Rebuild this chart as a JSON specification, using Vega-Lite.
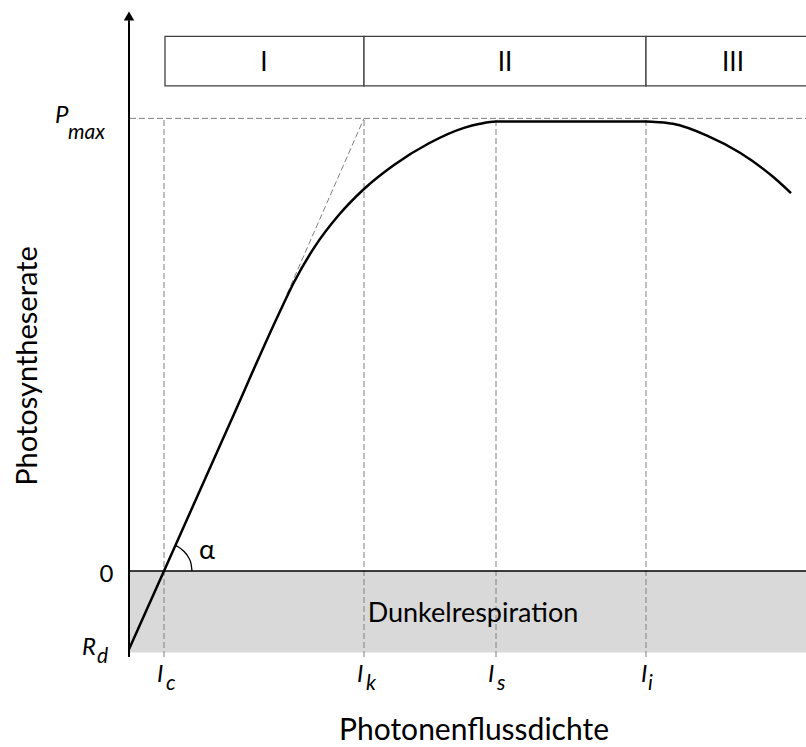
{
"$schema": "https://vega.github.io/schema/vega-lite/v6.json",
"width": 677, "height": 645,
"autosize": "none",
"padding": {"left": 129, "top": 12, "right": 0, "bottom": 90},
"config": {"view": {"stroke": null}, "font": "Lato"},
"layer": [
{"data": {"values": [{"x": 0, "x2": 677, "y": -18, "y2": 0}]},
 "mark": {"type": "rect", "fill": "#d9d9d9"},
 "encoding": {"x": {"field": "x", "type": "quantitative", "scale": {"domain": [0, 677], "nice": false, "zero": false}, "axis": null},
  "x2": {"field": "x2"},
  "y": {"field": "y", "type": "quantitative", "scale": {"domain": [-19, 123.5], "nice": false, "zero": false}, "axis": null},
  "y2": {"field": "y2"}}},
{"data": {"values": [{"x": 35, "y": -19, "y2": 100}, {"x": 235, "y": -19, "y2": 100}, {"x": 367, "y": -19, "y2": 100}, {"x": 517, "y": -19, "y2": 100}]},
 "mark": {"type": "rule", "stroke": "#808080", "strokeWidth": 1, "strokeDash": [6, 3]},
 "encoding": {"x": {"field": "x", "type": "quantitative"}, "y": {"field": "y", "type": "quantitative"}, "y2": {"field": "y2"}}},
{"data": {"values": [{"x": 1, "x2": 677, "y": 100}]},
 "mark": {"type": "rule", "stroke": "#808080", "strokeWidth": 1, "strokeDash": [6, 3]},
 "encoding": {"x": {"field": "x", "type": "quantitative"}, "x2": {"field": "x2"}, "y": {"field": "y", "type": "quantitative"}}},
{"data": {"values": [{"x": 158, "y": 61.2, "x2": 235, "y2": 100}]},
 "mark": {"type": "rule", "stroke": "#808080", "strokeWidth": 1, "strokeDash": [6, 3]},
 "encoding": {"x": {"field": "x", "type": "quantitative"}, "x2": {"field": "x2"}, "y": {"field": "y", "type": "quantitative"}, "y2": {"field": "y2"}}},
{"data": {"values": [{"x": 0, "x2": 677, "y": 0}]},
 "mark": {"type": "rule", "stroke": "#000000", "strokeWidth": 1.5},
 "encoding": {"x": {"field": "x", "type": "quantitative"}, "x2": {"field": "x2"}, "y": {"field": "y", "type": "quantitative"}}},
{"data": {"values": [{"x": 0, "y": -19, "y2": 121.7}]},
 "mark": {"type": "rule", "stroke": "#000000", "strokeWidth": 2},
 "encoding": {"x": {"field": "x", "type": "quantitative"}, "y": {"field": "y", "type": "quantitative"}, "y2": {"field": "y2"}}},
{"data": {"values": [{"x": 0, "y": 122.6}]},
 "mark": {"type": "point", "shape": "triangle-up", "filled": true, "color": "#000000", "size": 110, "opacity": 1},
 "encoding": {"x": {"field": "x", "type": "quantitative"}, "y": {"field": "y", "type": "quantitative"}}},
{"data": {"values": [
  {"x": 0, "y": -17.3}, {"x": 35, "y": 0}, {"x": 100, "y": 32.2}, {"x": 150, "y": 56.9}, {"x": 165, "y": 63.8},
  {"x": 185, "y": 71.4}, {"x": 210, "y": 78.7}, {"x": 235, "y": 84.4}, {"x": 265, "y": 89.7}, {"x": 300, "y": 94.5},
  {"x": 335, "y": 97.9}, {"x": 351, "y": 98.8}, {"x": 367, "y": 99.3}, {"x": 517, "y": 99.3},
  {"x": 530, "y": 99.15}, {"x": 544, "y": 98.8}, {"x": 578, "y": 96.2}, {"x": 611, "y": 92.4}, {"x": 644, "y": 87.1}, {"x": 662, "y": 83.5}]},
 "mark": {"type": "line", "stroke": "#000000", "strokeWidth": 2.5, "interpolate": "monotone"},
 "encoding": {"x": {"field": "x", "type": "quantitative"}, "y": {"field": "y", "type": "quantitative"}}},
{"data": {"values": [{"x": 63, "y": 0}, {"x": 62.05, "y": 1.6}, {"x": 59.25, "y": 3.09}, {"x": 54.8, "y": 4.37}, {"x": 49, "y": 5.36}, {"x": 46.4, "y": 5.65}]},
 "mark": {"type": "line", "stroke": "#000000", "strokeWidth": 1.3, "interpolate": "monotone"},
 "encoding": {"x": {"field": "x", "type": "quantitative"}, "y": {"field": "y", "type": "quantitative"}}},
{"data": {"values": [{"x": 36, "x2": 235, "y": 107.2, "y2": 118.1}, {"x": 235, "x2": 517, "y": 107.2, "y2": 118.1}, {"x": 517, "x2": 700, "y": 107.2, "y2": 118.1}]},
 "mark": {"type": "rect", "fill": "#ffffff", "stroke": "#404040", "strokeWidth": 1.3},
 "encoding": {"x": {"field": "x", "type": "quantitative"}, "x2": {"field": "x2"}, "y": {"field": "y", "type": "quantitative"}, "y2": {"field": "y2"}}},
{"data": {"values": [{"label": "I", "x": 135, "y": 110.5}, {"label": "II", "x": 376, "y": 110.5}, {"label": "III", "x": 604, "y": 110.5}]},
 "mark": {"type": "text", "fontSize": 26, "align": "center", "baseline": "alphabetic", "color": "#000000"},
 "encoding": {"x": {"field": "x", "type": "quantitative"}, "y": {"field": "y", "type": "quantitative"}, "text": {"field": "label"}}},
{"data": {"values": [{"label": "Dunkelrespiration", "x": 344, "y": -11.3}]},
 "mark": {"type": "text", "fontSize": 27, "align": "center", "baseline": "alphabetic", "color": "#000000"},
 "encoding": {"x": {"field": "x", "type": "quantitative"}, "y": {"field": "y", "type": "quantitative"}, "text": {"field": "label"}}},
{"data": {"values": [{"label": "Photonenflussdichte", "x": 345, "y": -37.4}]},
 "mark": {"type": "text", "fontSize": 30, "align": "center", "baseline": "alphabetic", "color": "#000000"},
 "encoding": {"x": {"field": "x", "type": "quantitative"}, "y": {"field": "y", "type": "quantitative"}, "text": {"field": "label"}}},
{"data": {"values": [{"label": "Photosyntheserate", "x": -92, "y": 45.3}]},
 "mark": {"type": "text", "fontSize": 29, "align": "center", "baseline": "alphabetic", "angle": 270, "color": "#000000"},
 "encoding": {"x": {"field": "x", "type": "quantitative"}, "y": {"field": "y", "type": "quantitative"}, "text": {"field": "label"}}},
{"data": {"values": [{"label": "0", "x": -22.5, "y": -2.4}]},
 "mark": {"type": "text", "fontSize": 24, "align": "center", "baseline": "alphabetic", "color": "#000000"},
 "encoding": {"x": {"field": "x", "type": "quantitative"}, "y": {"field": "y", "type": "quantitative"}, "text": {"field": "label"}}},
{"data": {"values": [{"label": "α", "x": 78, "y": 2.7}]},
 "mark": {"type": "text", "fontSize": 27, "align": "center", "baseline": "alphabetic", "color": "#000000"},
 "encoding": {"x": {"field": "x", "type": "quantitative"}, "y": {"field": "y", "type": "quantitative"}, "text": {"field": "label"}}},
{"data": {"values": [{"label": "P", "x": -74, "y": 99.0}, {"label": "R", "x": -47, "y": -18.6}, {"label": "I", "x": 28, "y": -24.5}, {"label": "I", "x": 228, "y": -24.5}, {"label": "I", "x": 359, "y": -24.5}, {"label": "I", "x": 512, "y": -24.5}]},
 "mark": {"type": "text", "fontSize": 24, "fontStyle": "italic", "align": "left", "baseline": "alphabetic", "color": "#000000"},
 "encoding": {"x": {"field": "x", "type": "quantitative"}, "y": {"field": "y", "type": "quantitative"}, "text": {"field": "label"}}},
{"data": {"values": [{"label": "max", "x": -61, "y": 95.5}, {"label": "d", "x": -32, "y": -20.3}, {"label": "c", "x": 37, "y": -26.3}, {"label": "k", "x": 237, "y": -26.3}, {"label": "s", "x": 368, "y": -26.3}, {"label": "i", "x": 519, "y": -26.3}]},
 "mark": {"type": "text", "fontSize": 21, "fontStyle": "italic", "align": "left", "baseline": "alphabetic", "color": "#000000"},
 "encoding": {"x": {"field": "x", "type": "quantitative"}, "y": {"field": "y", "type": "quantitative"}, "text": {"field": "label"}}}
]
}
